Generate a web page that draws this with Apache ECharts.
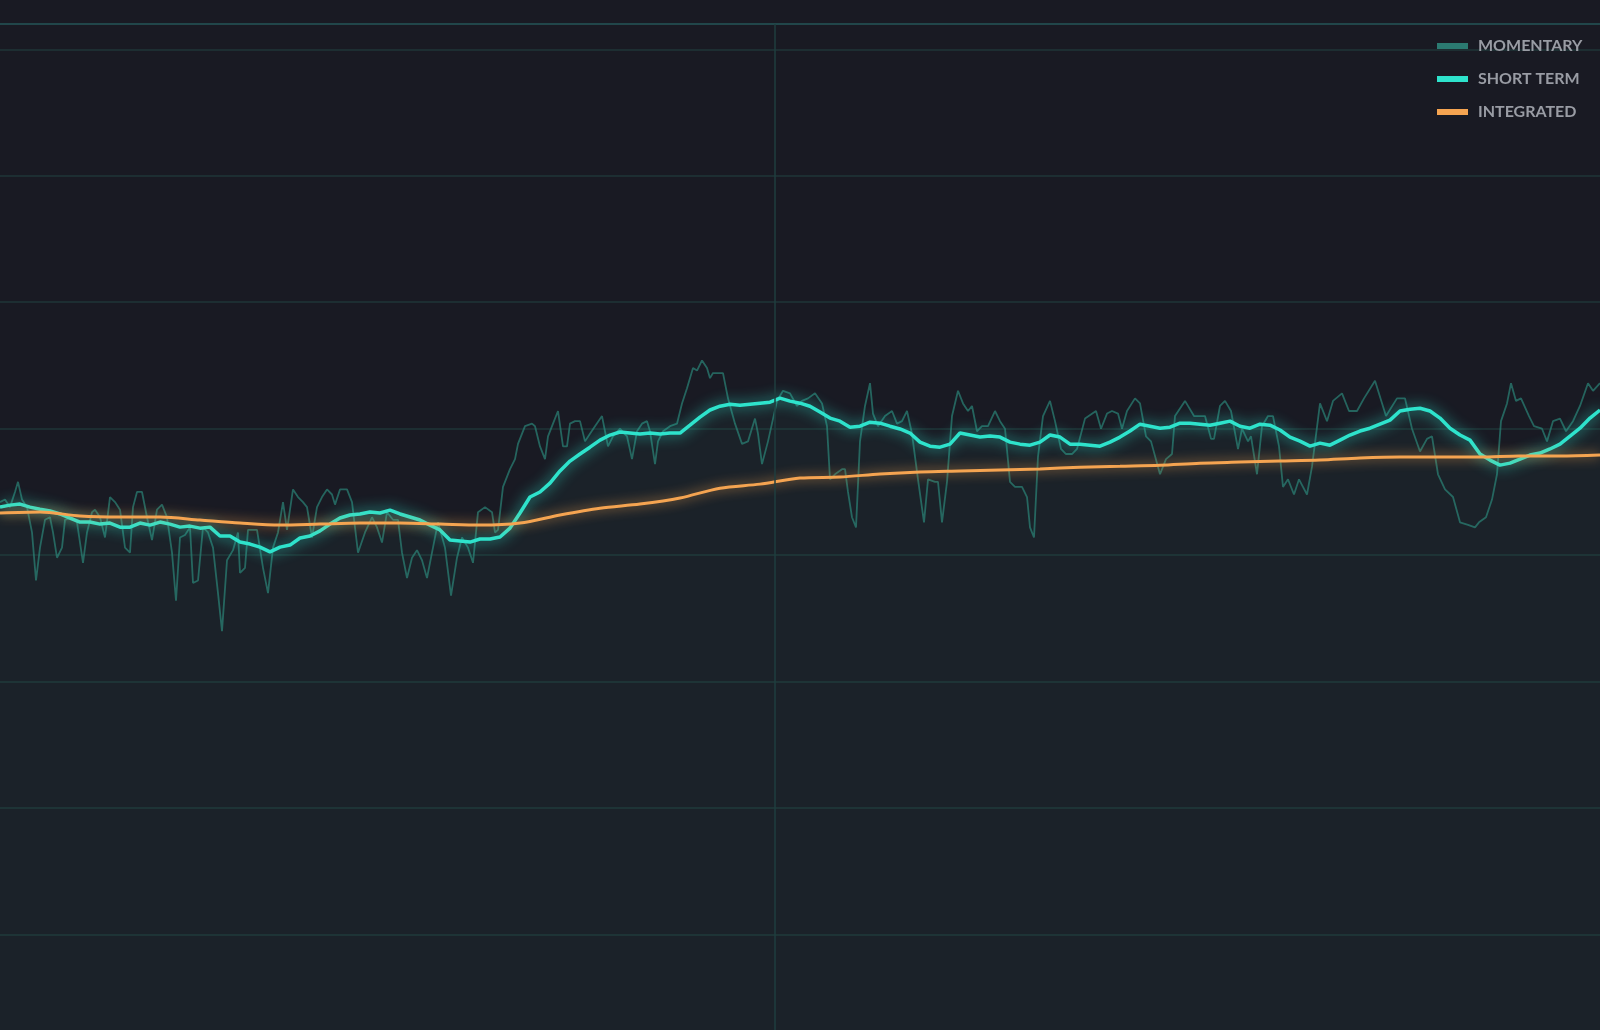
<!DOCTYPE html>
<html>
<head>
<meta charset="utf-8">
<title>Loudness</title>
<script src="https://cdn.jsdelivr.net/npm/echarts@6/dist/echarts.min.js"></script>
<style>
html, body { margin: 0; padding: 0; background: #191a23; }
#main { width: 1600px; height: 1030px; }
</style>
</head>
<body>
<div id="main"></div>
<script>
// loudness in LUFS, time in seconds

var seriesNames = ['MOMENTARY', 'SHORT TERM', 'INTEGRATED'];

var momentaryTime = [
	0, 0.5, 1.0, 1.5, 1.8, 2.2, 2.7, 3.2, 3.6, 4.0, 4.5, 5.0, 5.3, 5.7, 6.2, 6.5, 7.2, 7.7, 8.3, 8.7,
	9.2, 9.5, 10.0, 10.5, 11.0, 11.5, 12.0, 12.5, 13.0, 13.3, 13.7, 14.2, 14.7, 15.2, 15.7, 16.2, 16.7, 17.2, 17.6, 18.0,
	18.5, 19.0, 19.3, 19.8, 20.3, 20.8, 21.3, 21.8, 22.2, 22.7, 23.3, 23.8, 24.0, 24.5, 24.8, 25.7, 26.3, 26.8, 27.3, 27.8,
	28.3, 28.7, 29.3, 29.8, 30.3, 30.7, 31.2, 31.7, 32.2, 32.7, 33.2, 33.5, 34.0, 34.7, 35.2, 35.5, 35.8, 36.5, 37.2, 37.7,
	38.2, 38.7, 39.3, 39.8, 40.2, 40.7, 41.2, 41.7, 42.2, 42.7, 43.2, 43.8, 44.5, 45.1, 45.7, 46.2, 46.8, 47.3, 47.8, 48.5,
	49.2, 49.5, 49.8, 50.3, 51.0, 51.5, 51.8, 52.5, 53.2, 53.5, 54.0, 54.5, 54.8, 55.3, 55.8, 56.3, 56.7, 57.0, 57.5, 58.0,
	58.5, 59.0, 59.5, 60.2, 60.8, 61.3, 62.0, 62.7, 63.2, 63.7, 64.2, 64.7, 65.0, 65.5, 65.8, 66.3, 67.0, 67.7, 68.2, 68.7,
	69.3, 69.7, 70.2, 70.7, 71.0, 71.3, 71.8, 72.3, 72.8, 73.5, 74.2, 74.8, 75.5, 75.8, 76.2, 76.8, 77.7, 78.3, 79.0, 79.7,
	80.2, 80.8, 81.5, 82.2, 82.7, 83.0, 83.5, 84.2, 84.5, 84.8, 85.2, 85.6, 86.0, 86.5, 87.0, 87.3, 87.8, 88.5, 89.2, 89.7,
	90.2, 90.7, 91.2, 91.8, 92.4, 92.8, 93.5, 93.8, 94.2, 94.7, 95.2, 95.8, 96.3, 96.8, 97.2, 97.7, 98.2, 98.8, 99.5, 100.0,
	100.5, 101.0, 101.5, 102.2, 102.7, 103.0, 103.4, 103.8, 104.3, 105.0, 105.5, 106.1, 106.6, 107.2, 107.7, 108.5, 109.6, 110.1, 110.7, 111.2,
	111.8, 112.2, 112.7, 113.5, 114.0, 114.6, 115.1, 116.0, 116.6, 117.2, 117.5, 118.5, 119.4, 119.8, 120.5, 121.1, 121.4, 122.0, 122.5, 123.1,
	123.8, 124.2, 124.8, 125.1, 125.7, 126.2, 126.8, 127.3, 127.9, 128.3, 128.8, 129.4, 129.9, 130.7, 131.2, 132.0, 132.7, 133.3, 134.2, 134.9,
	135.7, 136.4, 137.5, 138.6, 139.7, 140.5, 141.2, 142.0, 142.7, 143.2, 143.8, 144.5, 145.3, 146.0, 146.8, 147.5, 147.9, 148.6, 149.2, 149.7,
	150.1, 150.7, 151.1, 151.6, 152.1, 152.9, 153.4, 154.2, 154.7, 155.3, 156.0, 156.6, 157.3, 158.0, 158.8, 159.3, 160.0
];

var momentaryLU = [
	-22.9, -22.8, -23.1, -22.5, -22.1, -22.8, -23.1, -24.1, -26.0, -24.7, -23.6, -23.5, -24.1, -25.1, -24.7, -23.6, -23.5, -23.7, -25.3, -24.1,
	-23.3, -23.2, -23.5, -24.3, -22.7, -22.9, -23.2, -24.7, -24.9, -23.1, -22.5, -22.5, -23.5, -24.4, -23.2, -23.0, -23.5, -24.9, -26.8, -24.3,
	-24.2, -23.9, -26.1, -26.0, -23.9, -24.1, -24.7, -26.5, -28.0, -25.2, -24.8, -24.1, -25.7, -25.5, -24.0, -24.0, -25.5, -26.5, -24.7, -24.1,
	-22.9, -24.0, -22.4, -22.7, -22.9, -23.1, -24.3, -23.1, -22.7, -22.4, -22.6, -23.0, -22.4, -22.4, -22.9, -23.9, -24.9, -24.1, -23.5, -23.9,
	-24.5, -23.3, -23.6, -23.6, -24.9, -25.9, -25.1, -24.8, -25.2, -25.9, -24.9, -23.7, -24.7, -26.6, -25.1, -24.3, -24.7, -25.3, -23.3, -23.1,
	-23.3, -24.1, -24.0, -22.3, -21.6, -21.2, -20.6, -19.9, -19.8, -19.9, -20.7, -21.2, -20.3, -19.8, -19.3, -20.7, -20.7, -19.8, -19.7, -19.7,
	-20.5, -20.2, -19.9, -19.5, -20.7, -20.3, -20.0, -20.3, -21.2, -20.1, -19.8, -19.7, -20.1, -21.4, -20.5, -20.1, -19.9, -19.8, -19.0, -18.4,
	-17.6, -17.7, -17.3, -17.6, -18.0, -17.8, -17.8, -17.8, -18.8, -19.8, -20.6, -20.5, -19.6, -20.2, -21.4, -20.5, -18.9, -18.5, -18.6, -19.1,
	-18.9, -18.8, -18.6, -19.0, -19.9, -22.0, -21.8, -21.6, -21.6, -22.5, -23.5, -23.9, -20.5, -19.1, -18.2, -19.4, -19.9, -19.5, -19.3, -19.8,
	-19.7, -19.3, -20.2, -22.0, -23.7, -22.0, -22.1, -22.1, -23.7, -22.1, -19.5, -18.5, -19.0, -19.3, -19.1, -20.1, -19.9, -19.9, -19.3, -19.7,
	-20.0, -22.1, -22.3, -22.3, -22.7, -23.9, -24.3, -21.1, -19.5, -18.9, -19.7, -20.8, -21.0, -21.0, -20.8, -19.6, -19.3, -20.0, -19.4, -19.3,
	-19.4, -20.0, -19.3, -18.8, -19.0, -20.3, -20.5, -21.8, -21.2, -21.0, -19.5, -18.9, -19.5, -19.5, -19.5, -20.4, -20.4, -19.1, -18.9, -19.3,
	-20.8, -20.0, -20.5, -20.3, -21.8, -19.9, -19.5, -19.5, -20.7, -22.3, -22.0, -22.6, -22.0, -22.6, -21.5, -19.0, -19.7, -18.9, -18.6, -19.3,
	-19.3, -18.8, -18.1, -19.5, -18.8, -18.8, -20.0, -20.9, -20.4, -20.3, -21.8, -22.4, -22.7, -23.7, -23.8, -23.9, -23.7, -23.5, -22.8, -21.8,
	-19.7, -19.0, -18.2, -18.9, -18.8, -19.5, -19.9, -20.0, -20.5, -19.7, -19.6, -20.1, -19.7, -19.1, -18.2, -18.5, -18.2
];

var shortTermStep = 1;
var shortTermLU = [
	-23.10, -23.02, -22.98, -23.10, -23.18, -23.25, -23.37, -23.53, -23.69, -23.69,
	-23.77, -23.73, -23.89, -23.89, -23.73, -23.81, -23.69, -23.77, -23.89, -23.85,
	-23.93, -23.89, -24.24, -24.24, -24.48, -24.56, -24.68, -24.87, -24.68, -24.60,
	-24.32, -24.24, -24.04, -23.77, -23.53, -23.41, -23.37, -23.29, -23.33, -23.22,
	-23.37, -23.49, -23.61, -23.81, -24.00, -24.40, -24.44, -24.48, -24.36, -24.36,
	-24.28, -23.93, -23.33, -22.70, -22.50, -22.15, -21.67, -21.28, -21.00, -20.73,
	-20.45, -20.25, -20.13, -20.17, -20.21, -20.17, -20.21, -20.17, -20.17, -19.86,
	-19.54, -19.26, -19.11, -19.03, -19.07, -19.03, -18.99, -18.95, -18.79, -18.91,
	-18.99, -19.11, -19.34, -19.58, -19.70, -19.94, -19.90, -19.74, -19.78, -19.90,
	-20.01, -20.17, -20.53, -20.69, -20.73, -20.61, -20.17, -20.25, -20.33, -20.29,
	-20.33, -20.53, -20.61, -20.65, -20.53, -20.25, -20.33, -20.61, -20.61, -20.65,
	-20.69, -20.53, -20.33, -20.09, -19.82, -19.90, -19.98, -19.94, -19.78, -19.78,
	-19.82, -19.86, -19.78, -19.70, -19.90, -19.98, -19.82, -19.86, -20.05, -20.33,
	-20.49, -20.69, -20.57, -20.65, -20.45, -20.25, -20.09, -19.98, -19.82, -19.66,
	-19.30, -19.23, -19.19, -19.30, -19.58, -19.98, -20.25, -20.45, -21.00, -21.24,
	-21.44, -21.36, -21.20, -21.04, -20.96, -20.80, -20.61, -20.29, -19.98, -19.58,
	-19.26
];

var integratedStep = 4;
var integratedLU = [
	-23.33, -23.29, -23.45, -23.49, -23.49, -23.61, -23.73, -23.81, -23.77, -23.73,
	-23.73, -23.77, -23.81, -23.73, -23.41, -23.14, -22.98, -22.74, -22.35, -22.19,
	-21.95, -21.91, -21.79, -21.71, -21.67, -21.63, -21.59, -21.52, -21.48, -21.44,
	-21.36, -21.32, -21.28, -21.24, -21.16, -21.12, -21.12, -21.12, -21.08, -21.08,
	-21.04
];

// visible loudness window and the playhead position
var luTop = -4;
var luBottom = -43.77;
var luStep = 5;
var cursorTime = 77.45;

function pairs( times, values ){
	var out = [];
	for( var i = 0; i < values.length; i++ ){
		out.push([times[i], values[i]]);
	}
	return out;
}

function stepped( step, values ){
	return values.map(function( v, i ){ return [i * step, v]; });
}

var myChart = echarts.init(document.getElementById('main'));

var option = {
	backgroundColor: '#191a23',
	animation: false,
	grid: { left: 0, right: 0, top: 24, bottom: 0 },
	legend: {
		orient: 'vertical',
		left: 1437,
		top: 38,
		padding: 0,
		itemWidth: 31,
		itemHeight: 6,
		itemGap: 17,
		icon: 'rect',
		data: seriesNames,
		itemStyle: { shadowBlur: 0, borderWidth: 0 },
		textStyle: {
			color: '#999ca4',
			fontFamily: 'Lato',
			fontWeight: 'bold',
			fontSize: 16,
			lineHeight: 16,
			padding: [0, 0, 0, 5]
		}
	},
	xAxis: {
		type: 'value',
		position: 'top',
		min: 0,
		max: 160,
		axisLine: { show: true, lineStyle: { color: '#21464a', width: 2 } },
		axisTick: { show: false },
		axisLabel: { show: false },
		splitLine: { show: false }
	},
	yAxis: {
		type: 'value',
		min: luBottom,
		max: luTop,
		splitNumber: 8,
		minInterval: luStep,
		maxInterval: luStep,
		axisLine: { show: false },
		axisTick: { show: false },
		axisLabel: { show: false },
		splitLine: {
			showMinLine: false,
			showMaxLine: false,
			lineStyle: { color: '#1f3638', width: 1.5 }
		}
	},
	series: [
		{
			name: seriesNames[0],
			type: 'line',
			data: pairs(momentaryTime, momentaryLU),
			showSymbol: false,
			color: '#2b7a71',
			lineStyle: { color: '#2b8478', width: 1.8, opacity: 0.7 },
			markLine: {
				silent: true,
				symbol: 'none',
				label: { show: false },
				lineStyle: { color: '#1f3e3f', width: 1.5, type: 'solid' },
				data: [{ xAxis: cursorTime }]
			}
		},
		{
			name: seriesNames[1],
			type: 'line',
			data: stepped(shortTermStep, shortTermLU),
			showSymbol: false,
			color: '#2ee3cc',
			lineStyle: {
				color: '#2ee3cc',
				width: 3.5,
				shadowColor: 'rgba(46,227,204,0.95)',
				shadowBlur: 14
			},
			areaStyle: { color: 'rgba(45,106,95,0.15)', origin: 'start' }
		},
		{
			name: seriesNames[2],
			type: 'line',
			data: stepped(integratedStep, integratedLU),
			showSymbol: false,
			smooth: 0.3,
			color: '#f5a451',
			lineStyle: {
				color: '#f5a451',
				width: 3,
				shadowColor: 'rgba(245,164,81,0.9)',
				shadowBlur: 12
			}
		}
	]
};

myChart.setOption(option, true);
</script>
</body>
</html>
